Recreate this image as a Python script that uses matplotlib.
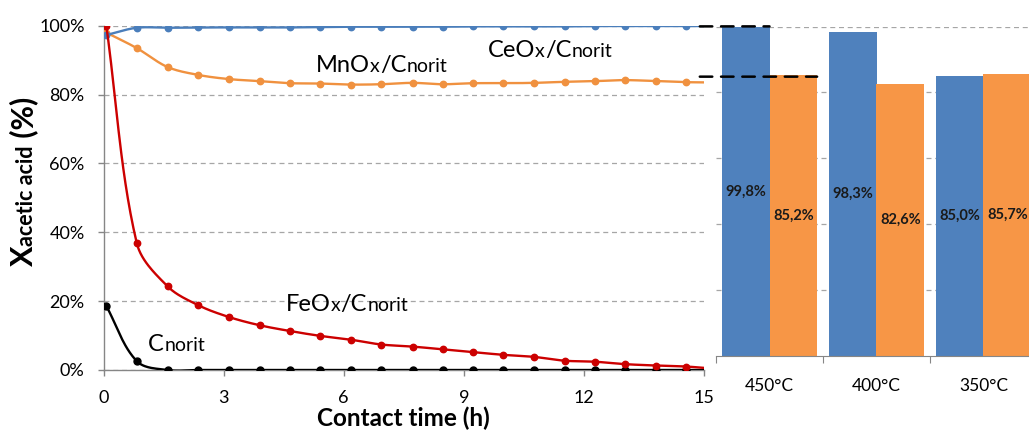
import numpy as np
import matplotlib
matplotlib.use("Agg")
import matplotlib.pyplot as plt
import matplotlib.transforms as mtransforms
from matplotlib.patches import ConnectionPatch
from matplotlib.ticker import FuncFormatter

plt.rcParams['font.family'] = ['Lato', 'DejaVu Sans']

# ---------------- data ----------------
time_h = [0.07, 0.83, 1.60, 2.37, 3.13, 3.90, 4.67, 5.42, 6.18, 6.94, 7.72,
          8.47, 9.23, 9.99, 10.76, 11.52, 12.28, 13.03, 13.80, 14.56, 15.33]
ceox = [97.3, 99.4, 99.4, 99.5, 99.5, 99.5, 99.5, 99.6, 99.7, 99.7, 99.7,
        99.7, 99.8, 99.8, 99.8, 99.8, 99.9, 99.9, 99.9, 99.9, 99.9]
mnox = [98.0, 93.5, 88.0, 85.7, 84.5, 83.9, 83.3, 83.2, 82.9, 83.0, 83.4,
        83.0, 83.3, 83.3, 83.4, 83.7, 83.9, 84.2, 83.9, 83.6, 83.5]
feox = [100.0, 36.9, 24.3, 18.8, 15.4, 13.0, 11.3, 9.9, 8.8, 7.4, 6.8,
        6.0, 5.2, 4.4, 3.8, 2.7, 2.4, 1.7, 1.3, 1.0, 0.3]
cnorit = [18.6, 2.6, 0.0, 0.0, 0.0, 0.0, 0.0, 0.0, 0.0, 0.0, 0.0,
          0.0, 0.0, 0.0, 0.0, 0.0, 0.0, 0.0, 0.0, 0.0, 0.0]

x_ticks = [0, 3, 6, 9, 12, 15]
y_ticks = [0, 20, 40, 60, 80, 100]

temps = ['450°C', '400°C', '350°C']
bar_ceox = [99.8, 98.3, 85.0]
bar_mnox = [85.2, 82.6, 85.7]

# ---------------- style ----------------
C_BLUE_L = '#4A7EBB'
C_ORANGE_L = '#F0913F'
C_RED = '#CC0000'
C_BLUE_B = '#4F81BD'
C_ORANGE_B = '#F79646'
AXIS_C = '#868686'
GRID_C = '#A6A6A6'

W, H = 1029, 432
fig = plt.figure(figsize=(W / 100, H / 100), dpi=100)

ax1 = fig.add_axes([103.5 / W, 62 / H, 600.5 / W, 344.3 / H])
ax2 = fig.add_axes([716 / W, 76 / H, 321 / W, 329.5 / H])


def smooth(ax, x, y, n=30):
    """Smooth curve through the points (length-scaled cardinal Bezier, in pixel space)."""
    P = ax.transData.transform(np.column_stack([np.asarray(x, float), np.asarray(y, float)]))
    Pe = np.vstack([P[0], P, P[-1]])
    out = []
    t = np.linspace(0, 1, n)[:, None]

    def unit(v):
        nrm = np.hypot(*v)
        return v / nrm if nrm > 0 else v * 0

    for i in range(len(P) - 1):
        p0, p1, p2, p3 = Pe[i], Pe[i + 1], Pe[i + 2], Pe[i + 3]
        L = np.hypot(*(p2 - p1))
        c1 = p1 + unit(p2 - p0) * L / 3.0
        c2 = p2 - unit(p3 - p1) * L / 3.0
        seg = (1 - t) ** 3 * p1 + 3 * (1 - t) ** 2 * t * c1 + 3 * (1 - t) * t ** 2 * c2 + t ** 3 * p2
        out.append(seg if i == 0 else seg[1:])
    S = np.vstack(out)
    return ax.transData.inverted().transform(S)


ax1.set_xlim(0, 15)
ax1.set_ylim(0, 100)

series = [(cnorit, 'black', 5.0), (mnox, C_ORANGE_L, 4.6), (ceox, C_BLUE_L, 4.6), (feox, C_RED, 4.6)]
for k, (vals, col, ms) in enumerate(series):
    s = smooth(ax1, time_h, vals)
    ax1.plot(s[:, 0], s[:, 1], color=col, lw=1.7, zorder=3 + k, solid_capstyle='round')
    ax1.plot(time_h, vals, 'o', color=col, ms=ms, zorder=3 + k)

ax1.set_xlim(0, 15)
ax1.set_ylim(0, 100)
ax1.set_xticks(x_ticks)
ax1.set_yticks(y_ticks)
ax1.yaxis.set_major_formatter(FuncFormatter(lambda v, p: f"{v:.0f}%"))
ax1.grid(axis='y', color=GRID_C, ls=(0, (4, 3)), lw=0.9)
ax1.set_axisbelow(True)
for sp in ['top', 'right']:
    ax1.spines[sp].set_visible(False)
for sp in ['left', 'bottom']:
    ax1.spines[sp].set_color(AXIS_C)
    ax1.spines[sp].set_linewidth(1.0)
ax1.tick_params(axis='both', direction='out', length=4.5, width=1.0, color=AXIS_C,
                labelsize=13, labelcolor='black')
ax1.tick_params(axis='x', pad=10)
ax1.tick_params(axis='y', pad=9)
ax1.set_xlabel('Contact time (h)', fontsize=17.5, fontweight='bold', labelpad=0)

# ---------------- bars ----------------
xc = np.arange(len(temps))
bw = 0.445
b1 = ax2.bar(xc - bw / 2, bar_ceox, width=bw, color=C_BLUE_B, zorder=2)
b2 = ax2.bar(xc + bw / 2, bar_mnox, width=bw, color=C_ORANGE_B, zorder=2)
fmt = lambda v: f"{v:.1f}%".replace('.', ',')
ax2.bar_label(b1, labels=[fmt(v) for v in bar_ceox], label_type='center',
              fontsize=10.5, fontweight='bold', color='#1a1a1a')
ax2.bar_label(b2, labels=[fmt(v) for v in bar_mnox], label_type='center',
              fontsize=10.5, fontweight='bold', color='#1a1a1a')
ax2.set_xlim(-0.5, len(temps) - 0.5)
ax2.set_ylim(0, 100)
ax2.set_yticks(y_ticks[1:])
ax2.yaxis.set_tick_params(length=0, labelleft=False)
ax2.grid(axis='y', color=GRID_C, ls=(0, (4, 3)), lw=0.9, zorder=0)
ax2.set_axisbelow(True)
for sp in ['top', 'right', 'left']:
    ax2.spines[sp].set_visible(False)
ax2.spines['bottom'].set_color(AXIS_C)
ax2.set_xticks(np.arange(len(temps) + 1) - 0.5)
ax2.set_xticklabels([])
ax2.set_xticks(xc, minor=True)
ax2.set_xticklabels(temps, minor=True)
ax2.tick_params(axis='x', which='major', direction='out', length=5, color=AXIS_C)
ax2.tick_params(axis='x', which='minor', length=0, pad=16, labelsize=12.5)

# dashed connectors
blend_start = mtransforms.blended_transform_factory(ax1.transAxes, ax1.transData)
blend_end = mtransforms.blended_transform_factory(ax2.transData, ax1.transData)
for xb, v in [(xc[0], bar_ceox[0]), (xc[0] + bw, bar_mnox[0])]:
    cp = ConnectionPatch(xyA=(0.993, v), coordsA=blend_start, xyB=(xb, v), coordsB=blend_end,
                         color='black', lw=1.8, ls=(0, (5, 3.5)), zorder=10)
    fig.add_artist(cp)

# ---------------- rich texts ----------------
renderer = fig.canvas.get_renderer()


def rich(x, y, pieces, transform, rotation=0, weight='normal', color='black'):
    d = 0.0
    for s, size in pieces:
        off = (d, 0) if rotation == 0 else (0, d)
        tr = transform + mtransforms.Affine2D().translate(*off)
        t = fig.text(x, y, s, fontsize=size, fontweight=weight, color=color,
                     transform=tr, ha='left', va='baseline', rotation=rotation,
                     rotation_mode='anchor')
        bb = t.get_window_extent(renderer)
        d += bb.width if rotation == 0 else bb.height


BIG, SMALL = 17, 14
rich(9.6, 91.0, [('CeO', BIG), ('x', SMALL), ('/C', BIG), ('norit', SMALL)], ax1.transData)
rich(5.31, 86.6, [('MnO', BIG), ('x', SMALL), ('/C', BIG), ('norit', SMALL)], ax1.transData)
rich(4.56, 17.2, [('FeO', BIG), ('x', SMALL), ('/C', BIG), ('norit', SMALL)], ax1.transData)
rich(1.12, 5.6, [('C', BIG), ('norit', SMALL)], ax1.transData)

rich(33 / W, 166 / H, [('X', 22), ('acetic acid', 15.5), (' (%)', 21.5)], fig.transFigure,
     rotation=90, weight='bold')

fig.savefig('out.png', dpi=100)
